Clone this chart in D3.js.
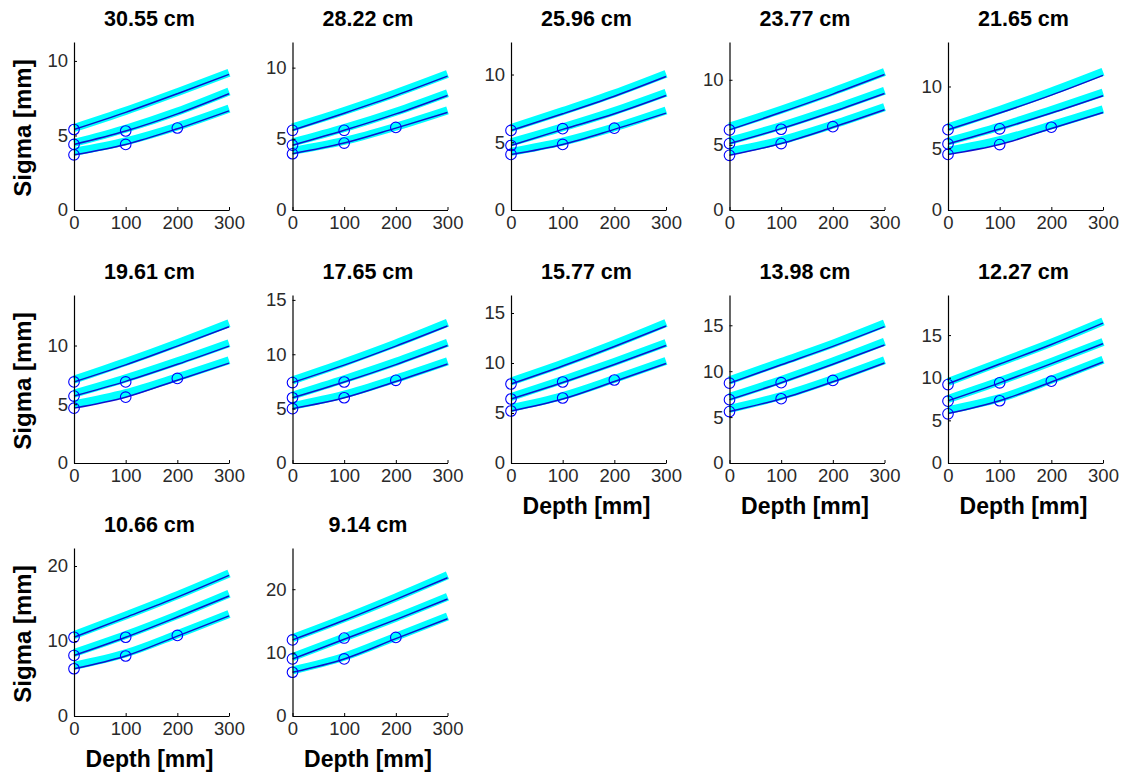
<!DOCTYPE html>
<html>
<head>
<meta charset="utf-8">
<script src="https://cdn.jsdelivr.net/npm/d3@7"></script>
<style>
  html, body { margin: 0; padding: 0; background: #fff; }
  svg { display: block; }
  text { font-family: "Liberation Sans", Arial, Helvetica, sans-serif; }
</style>
</head>
<body>
<svg id="chart" width="1128" height="778"></svg>
<script>
// ---------------- data ----------------
const titles = ["30.55 cm", "28.22 cm", "25.96 cm", "23.77 cm", "21.65 cm",
                "19.61 cm", "17.65 cm", "15.77 cm", "13.98 cm", "12.27 cm",
                "10.66 cm", "9.14 cm"];
const depths = [0, 100, 200, 300];
const depthTicks = [0, 100, 200, 300];
const yMax = [11.27, 11.8, 12.4, 12.9, 13.6, 14.3, 15.45, 16.8, 18.3, 19.7, 22.4, 26.5];
const yTickStep = [5, 5, 5, 5, 5, 5, 5, 5, 5, 5, 10, 10];

// thick cyan model curves (sigma at depths 0,100,200,300)
const fitTop = [
  [5.5, 6.65, 7.9, 9.2], [5.8, 6.95, 8.2, 9.55], [6.05, 7.3, 8.6, 10.05], [6.4, 7.7, 9.1, 10.6],
  [6.7, 8.1, 9.6, 11.2], [7.1, 8.6, 10.2, 11.9], [7.6, 9.25, 11.0, 12.9], [8.15, 9.95, 11.9, 14.0],
  [9.0, 11.0, 13.0, 15.2], [9.5, 11.8, 14.1, 16.6], [10.8, 13.4, 16.1, 19.0], [12.3, 15.4, 18.7, 22.2]];
const fitMid = [
  [4.5, 5.45, 6.6, 7.95], [4.75, 5.75, 6.9, 8.2], [5.0, 6.1, 7.3, 8.65], [5.3, 6.45, 7.75, 9.15],
  [5.55, 6.75, 8.1, 9.5], [5.9, 7.2, 8.65, 10.2], [6.2, 7.7, 9.3, 11.05], [6.6, 8.3, 10.1, 12.0],
  [7.2, 9.05, 11.05, 13.2], [7.5, 9.6, 11.85, 14.2], [8.4, 10.8, 13.45, 16.3], [9.3, 12.4, 15.5, 18.8]];
const fitBot = [
  [3.9, 4.6, 5.6, 6.8], [4.15, 4.85, 5.85, 7.0], [4.3, 5.05, 6.1, 7.35], [4.5, 5.35, 6.55, 7.9],
  [4.8, 5.65, 6.85, 8.15], [5.0, 5.95, 7.3, 8.75], [5.25, 6.3, 7.75, 9.35], [5.5, 6.7, 8.4, 10.2],
  [5.9, 7.3, 9.15, 11.2], [6.2, 7.6, 9.75, 12.1], [6.7, 8.35, 10.9, 13.6], [7.2, 9.35, 12.5, 15.7]];

// thin blue curves
const lineTop = [
  [5.4, 6.55, 7.8, 9.1], [5.6, 6.8, 8.05, 9.4], [5.87, 7.1, 8.4, 9.85], [6.15, 7.5, 8.9, 10.4],
  [6.5, 7.85, 9.3, 10.9], [6.9, 8.35, 9.95, 11.6], [7.4, 9.0, 10.75, 12.6], [7.9, 9.7, 11.65, 13.7],
  [8.7, 10.7, 12.7, 14.85], [9.3, 11.6, 13.9, 16.4], [10.5, 13.15, 15.85, 18.75], [12.0, 15.1, 18.4, 21.8]];
const lineMid = [
  [4.4, 5.3, 6.45, 7.8], [4.55, 5.6, 6.75, 8.05], [4.76, 5.95, 7.1, 8.45], [5.1, 6.25, 7.55, 8.95],
  [5.35, 6.55, 7.85, 9.25], [5.7, 6.95, 8.4, 9.95], [6.0, 7.45, 9.05, 10.8], [6.4, 8.05, 9.85, 11.75],
  [6.9, 8.75, 10.75, 12.85], [7.3, 9.4, 11.65, 14.0], [8.07, 10.5, 13.2, 16.0], [9.0, 12.1, 15.2, 18.45]];
const lineBot = [
  [3.7, 4.4, 5.45, 6.65], [3.95, 4.7, 5.75, 6.85], [4.1, 4.84, 5.95, 7.15], [4.2, 5.1, 6.35, 7.7],
  [4.5, 5.3, 6.6, 7.9], [4.67, 5.6, 7.05, 8.5], [5.0, 6.0, 7.5, 9.1], [5.2, 6.4, 8.15, 9.95],
  [5.6, 7.0, 8.85, 10.9], [5.8, 7.3, 9.5, 11.85], [6.3, 8.0, 10.65, 13.35], [6.9, 9.0, 12.2, 15.35]];

// measured points (circles)
const measTopDepths = [0];
const measMidDepths = [0, 100];
const measBotDepths = [0, 100, 200];
const measTop = [[5.4], [5.6], [5.87], [6.15], [6.5], [6.9], [7.4], [7.9], [8.7], [9.2], [10.5], [12.0]];
const measMid = [[4.4, 5.3], [4.55, 5.6], [4.76, 6.0], [5.1, 6.2], [5.35, 6.57], [5.7, 6.9],
                 [6.0, 7.45], [6.4, 8.1], [6.9, 8.75], [7.25, 9.4], [8.07, 10.5], [9.0, 12.3]];
const measBot = [[3.7, 4.4, 5.5], [3.95, 4.7, 5.8], [4.1, 4.84, 6.04], [4.2, 5.1, 6.4], [4.5, 5.3, 6.7],
                 [4.67, 5.6, 7.2], [5.0, 6.0, 7.6], [5.2, 6.5, 8.3], [5.6, 7.0, 9.0], [5.77, 7.3, 9.6],
                 [6.3, 8.0, 10.75], [6.9, 9.0, 12.4]];

const xLabelText = "Depth [mm]";
const yLabelText = "Sigma [mm]";

// ---------------- layout ----------------
const colX = [74, 292.5, 511, 729.5, 948];
const rowY = [42, 295, 548];
const W = 155, H = 168;
const xLabelPanels = [7, 8, 9, 10, 11];
const yLabelPanels = [0, 5, 10];

const svg = d3.select("#chart");

titles.forEach((title, i) => {
  const col = i % 5, row = Math.floor(i / 5);
  const g = svg.append("g").attr("transform", `translate(${colX[col]},${rowY[row]})`);

  const x = d3.scaleLinear().domain([0, 300]).range([0, W]);
  const y = d3.scaleLinear().domain([0, yMax[i]]).range([H, 0]);

  const line = d3.line().x((d, k) => x(depths[k])).y(d => y(d)).curve(d3.curveMonotoneX);

  // thick cyan fits
  [fitTop[i], fitMid[i], fitBot[i]].forEach(s => {
    g.append("path").attr("d", line(s)).attr("fill", "none")
      .attr("stroke", "#00ffff").attr("stroke-width", 8).attr("stroke-linecap", "butt");
  });
  // thin blue lines
  [lineTop[i], lineMid[i], lineBot[i]].forEach(s => {
    g.append("path").attr("d", line(s)).attr("fill", "none")
      .attr("stroke", "#1010cc").attr("stroke-width", 1.5);
  });
  // circles
  const pts = [];
  measTop[i].forEach((v, k) => pts.push([measTopDepths[k], v]));
  measMid[i].forEach((v, k) => pts.push([measMidDepths[k], v]));
  measBot[i].forEach((v, k) => pts.push([measBotDepths[k], v]));
  g.selectAll("circle.m").data(pts).enter().append("circle")
    .attr("cx", d => x(d[0])).attr("cy", d => y(d[1])).attr("r", 5.3)
    .attr("fill", "none").attr("stroke", "#0000ff").attr("stroke-width", 1.1);

  // axes
  const ax = g.append("g").attr("transform", `translate(0,${H})`)
    .call(d3.axisBottom(x).tickValues(depthTicks).tickSizeInner(-3).tickSizeOuter(0).tickPadding(6));
  const ay = g.append("g")
    .call(d3.axisLeft(y).tickValues(d3.range(0, yMax[i], yTickStep[i])).tickSizeInner(-3).tickSizeOuter(0).tickPadding(6));
  [ax, ay].forEach(a => {
    a.select(".domain").attr("stroke", "#000").attr("stroke-width", 1.2);
    a.selectAll(".tick line").attr("stroke", "#000");
    a.selectAll(".tick text").attr("font-size", 18.5).attr("fill", "#2a2a2a")
      .attr("font-family", '"Liberation Sans", Arial, sans-serif');
  });

  // title
  g.append("text").attr("x", W / 2 - 2).attr("y", -16).attr("text-anchor", "middle")
    .attr("font-size", 21.5).attr("font-weight", "bold").attr("fill", "#000").text(title);

  if (xLabelPanels.includes(i)) {
    g.append("text").attr("x", W / 2 - 2).attr("y", H + 51).attr("text-anchor", "middle")
      .attr("font-size", 23).attr("font-weight", "bold").attr("fill", "#000").text(xLabelText);
  }
  if (yLabelPanels.includes(i)) {
    g.append("text").attr("transform", `translate(-43,${H / 2 + 2}) rotate(-90)`)
      .attr("text-anchor", "middle")
      .attr("font-size", 24).attr("font-weight", "bold").attr("fill", "#000").text(yLabelText);
  }
});
</script>
</body>
</html>
